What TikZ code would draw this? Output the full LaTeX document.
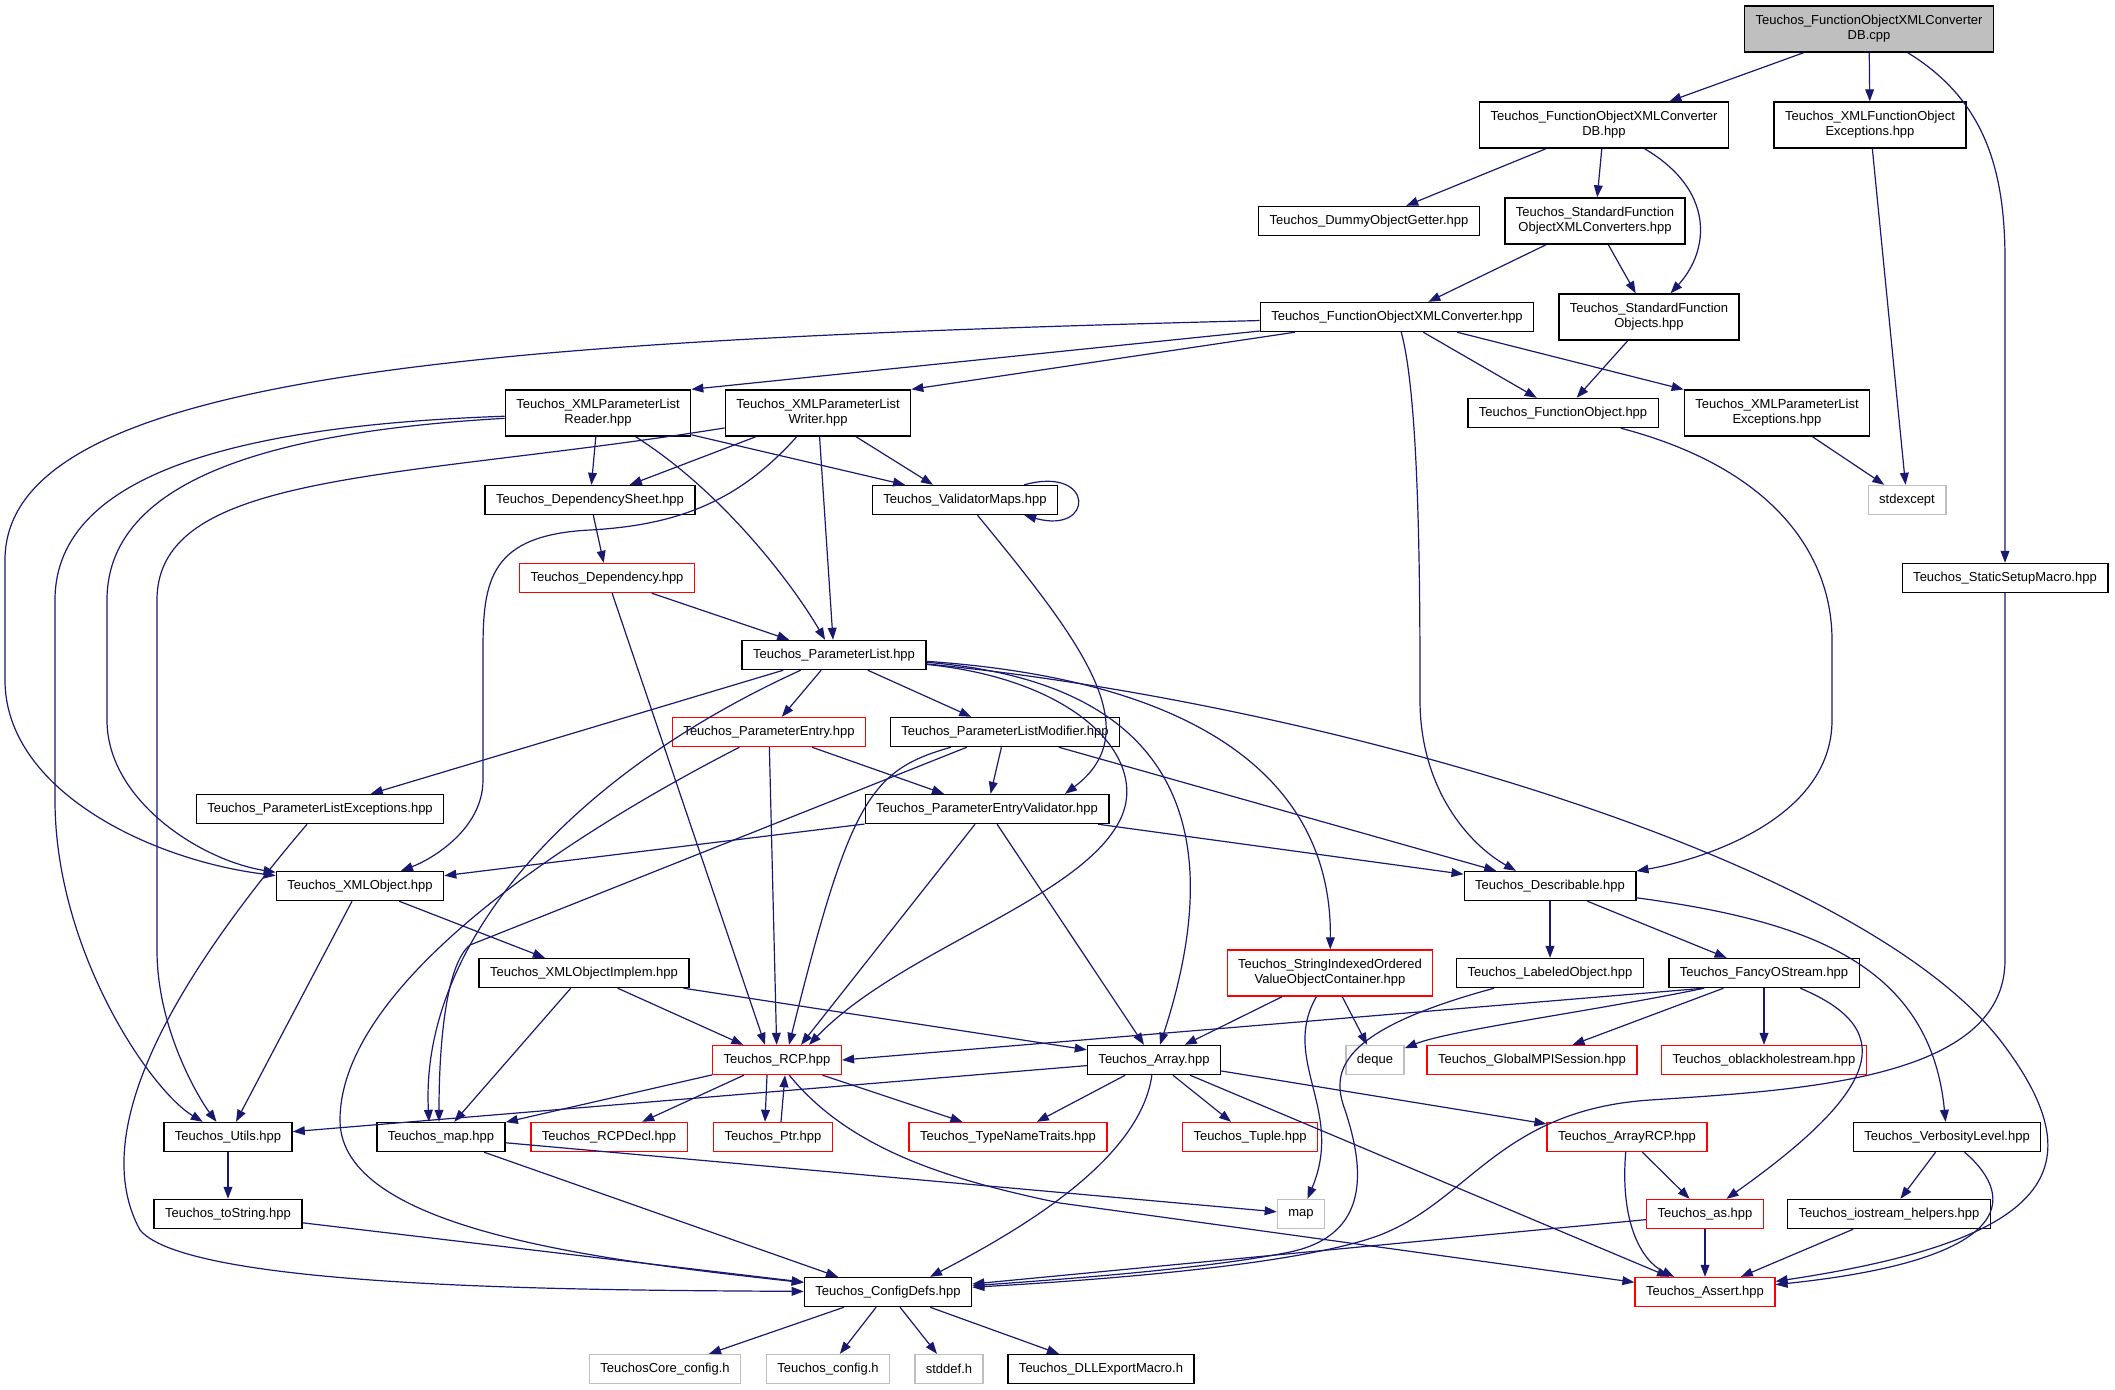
\documentclass[tikz,border=0pt]{standalone}
\usepackage{fontspec}
\setmainfont{Liberation Sans}
\usepackage{tikz}
\usetikzlibrary{arrows.meta}
\definecolor{edgeblue}{HTML}{191970}
\definecolor{extgray}{HTML}{BFBFBF}

\begin{document}
\begin{tikzpicture}[x=0.5pt,y=0.5pt,yscale=-1,xscale=1,
  box/.style={draw=black,line width=0.7pt,fill=white,inner xsep=5.5pt,inner ysep=0pt,minimum height=14.5pt,align=center,font=\fontsize{6.5pt}{7.5pt}\selectfont},
  tall/.style={minimum height=23pt},
  redbox/.style={box,draw=red},
  extbox/.style={box,draw=extgray},
  mainbox/.style={box,fill=extgray},
  incl/.style={draw=edgeblue,line width=0.6pt,-{Triangle[length=6pt,width=4.4pt]}}]
\useasboundingbox (0,0) rectangle (2115,1389);

% Nodes: top part
\node[mainbox,tall] (cpp) at (1869,29) {Teuchos\_FunctionObjectXMLConverter\\DB.cpp};
\node[box,tall] (dbhpp) at (1604,125) {Teuchos\_FunctionObjectXMLConverter\\DB.hpp};
\node[box,tall] (xfoexc) at (1870,125) {Teuchos\_XMLFunctionObject\\Exceptions.hpp};
\node[box] (dummy) at (1369,221) {Teuchos\_DummyObjectGetter.hpp};
\node[box,tall] (sfoxc) at (1595,221) {Teuchos\_StandardFunction\\ObjectXMLConverters.hpp};
\node[box] (foxc) at (1397,317) {Teuchos\_FunctionObjectXMLConverter.hpp};
\node[box,tall] (sfo) at (1649,317) {Teuchos\_StandardFunction\\Objects.hpp};
\node[box] (fo) at (1563,413) {Teuchos\_FunctionObject.hpp};
\node[box,tall] (xplexc) at (1777,413) {Teuchos\_XMLParameterList\\Exceptions.hpp};
\node[extbox] (stdexcept) at (1907,500) {stdexcept};
\node[box] (ssm) at (2005,578) {Teuchos\_StaticSetupMacro.hpp};
\node[box,tall] (xplr) at (598,413) {Teuchos\_XMLParameterList\\Reader.hpp};
\node[box,tall] (xplw) at (818,413) {Teuchos\_XMLParameterList\\Writer.hpp};
\node[box] (depsheet) at (590,500) {Teuchos\_DependencySheet.hpp};
\node[box] (valmaps) at (965,500) {Teuchos\_ValidatorMaps.hpp};
\node[redbox] (dep) at (607,578) {Teuchos\_Dependency.hpp};
\node[box] (pl) at (834,655) {Teuchos\_ParameterList.hpp};

% Nodes: middle part
\node[redbox] (pe) at (769,732) {Teuchos\_ParameterEntry.hpp};
\node[box] (plm) at (1005,732) {Teuchos\_ParameterListModifier.hpp};
\node[box] (plexc) at (320,809) {Teuchos\_ParameterListExceptions.hpp};
\node[box] (pev) at (987,809) {Teuchos\_ParameterEntryValidator.hpp};
\node[box] (xmlobj) at (360,886) {Teuchos\_XMLObject.hpp};
\node[box] (describable) at (1550,886) {Teuchos\_Describable.hpp};
\node[box] (xmlimpl) at (584,973) {Teuchos\_XMLObjectImplem.hpp};
\node[redbox,tall] (sio) at (1330,973) {Teuchos\_StringIndexedOrdered\\ValueObjectContainer.hpp};
\node[box] (labeled) at (1550,973) {Teuchos\_LabeledObject.hpp};
\node[box] (fancy) at (1764,973) {Teuchos\_FancyOStream.hpp};
\node[redbox] (rcp) at (777,1060) {Teuchos\_RCP.hpp};
\node[box] (array) at (1154,1060) {Teuchos\_Array.hpp};
\node[extbox] (deque) at (1375,1060) {deque};
\node[redbox] (gmpi) at (1532,1060) {Teuchos\_GlobalMPISession.hpp};
\node[redbox] (obh) at (1764,1060) {Teuchos\_oblackholestream.hpp};

% Nodes: bottom part
\node[box] (utils) at (228,1137) {Teuchos\_Utils.hpp};
\node[box] (maphpp) at (441,1137) {Teuchos\_map.hpp};
\node[redbox] (rcpdecl) at (609,1137) {Teuchos\_RCPDecl.hpp};
\node[redbox] (ptr) at (773,1137) {Teuchos\_Ptr.hpp};
\node[redbox] (tnt) at (1008,1137) {Teuchos\_TypeNameTraits.hpp};
\node[redbox] (tuple) at (1250,1137) {Teuchos\_Tuple.hpp};
\node[redbox] (arcp) at (1627,1137) {Teuchos\_ArrayRCP.hpp};
\node[box] (verb) at (1947,1137) {Teuchos\_VerbosityLevel.hpp};
\node[box] (tostring) at (228,1214) {Teuchos\_toString.hpp};
\node[extbox] (map) at (1301,1214) {map};
\node[redbox] (as) at (1705,1214) {Teuchos\_as.hpp};
\node[box] (ioh) at (1889,1214) {Teuchos\_iostream\_helpers.hpp};
\node[box] (configdefs) at (888,1292) {Teuchos\_ConfigDefs.hpp};
\node[redbox] (assert) at (1705,1292) {Teuchos\_Assert.hpp};
\node[extbox] (coreconfig) at (665,1369) {TeuchosCore\_config.h};
\node[extbox] (config) at (828,1369) {Teuchos\_config.h};
\node[extbox] (stddef) at (949,1369) {stddef.h};
\node[box] (dll) at (1101,1369) {Teuchos\_DLLExportMacro.h};

% Edges: converter DB
\draw[incl] (cpp) -- (dbhpp);
\draw[incl] (cpp) -- (xfoexc);
\draw[incl] (cpp) .. controls (1985,100) and (2005,170) .. (2005,260) -- (ssm);
\draw[incl] (dbhpp) -- (dummy);
\draw[incl] (dbhpp) -- (sfoxc);
\draw[incl] (dbhpp) .. controls (1715,190) and (1710,250) .. (sfo);
\draw[incl] (xfoexc) -- (stdexcept);
\draw[incl] (sfoxc) -- (foxc);
\draw[incl] (sfoxc) -- (sfo);
\draw[incl] (sfo) -- (fo);
\draw[incl] (xplexc) -- (stdexcept);

% Edges: function object converter
\draw[incl] (foxc) .. controls (500,340) and (5,370) .. (5,560) -- (5,680) .. controls (5,790) and (150,860) .. (xmlobj);
\draw[incl] (foxc) -- (xplr.north east);
\draw[incl] (foxc) -- (xplw.north east);
\draw[incl] (foxc) -- (fo);
\draw[incl] (foxc) -- (xplexc);
\draw[incl] (foxc) .. controls (1420,400) and (1420,600) .. (1420,700) .. controls (1420,790) and (1470,845) .. ([xshift=-17pt]describable.north);
\draw[incl] (fo) .. controls (1780,470) and (1832,560) .. (1832,640) -- (1832,720) .. controls (1832,820) and (1700,860) .. (describable);
\draw[incl] (ssm) -- (2005,960) .. controls (2005,1080) and (1800,1090) .. (1650,1100) .. controls (1500,1110) and (1470,1200) .. (1380,1235) .. controls (1300,1265) and (1100,1280) .. (configdefs);

% Edges: reader and writer
\draw[incl] (xplr) .. controls (250,425) and (55,470) .. (55,600) -- (55,800) .. controls (55,950) and (150,1090) .. (utils);
\draw[incl] (xplr) .. controls (300,430) and (107,470) .. (107,600) -- (107,720) .. controls (107,800) and (200,860) .. (xmlobj);
\draw[incl] (xplr) -- (depsheet);
\draw[incl] (xplr) .. controls (720,490) and (790,580) .. (pl);
\draw[incl] (xplr) -- ([xshift=-30pt]valmaps.north);
\draw[incl] (xplw) .. controls (400,480) and (157,470) .. (157,600) -- (157,950) .. controls (157,1030) and (200,1100) .. (utils);
\draw[incl] (xplw) .. controls (740,500) and (680,525) .. (590,530) .. controls (490,535) and (483,580) .. (483,650) -- (483,780) .. controls (483,830) and (430,860) .. (xmlobj);
\draw[incl] (xplw) -- (depsheet);
\draw[incl] (xplw) -- ([xshift=-16pt]valmaps.north);
\draw[incl] (xplw) -- (pl);
\draw[incl] (depsheet) -- (dep);
\draw[incl] ([xshift=-17pt]valmaps.north east) .. controls (1095,465) and (1095,535) .. ([xshift=-17pt]valmaps.south east);
\draw[incl] (valmaps) .. controls (1080,640) and (1150,730) .. ([xshift=39pt]pev.north);
\draw[incl] (dep) -- (pl);
\draw[incl] (dep) -- ([xshift=-6pt]rcp.north);

% Edges: parameter list
\draw[incl] (pl) -- (plexc);
\draw[incl] (pl) -- (pe);
\draw[incl] (pl) -- (plm);
\draw[incl] (pl) .. controls (560,780) and (420,950) .. ([xshift=-6pt]maphpp.north);
\draw[incl] (pl) .. controls (1080,680) and (1150,760) .. (1120,820) .. controls (1080,900) and (900,950) .. ([xshift=16pt]rcp.north);
\draw[incl] (pl) .. controls (1150,680) and (1240,800) .. ([xshift=3pt]array.north);
\draw[incl] (pl) .. controls (1200,680) and (1332,780) .. (sio);
\draw[incl] (pl) .. controls (1300,700) and (1850,850) .. (2000,1040) .. controls (2100,1170) and (2050,1240) .. (assert);
\draw[incl] (pe) -- (pev);
\draw[incl] (pe) -- (rcp);
\draw[incl] (pe) .. controls (520,860) and (340,1000) .. (340,1120) .. controls (340,1230) and (600,1260) .. (configdefs);
\draw[incl] (plm) -- (pev);
\draw[incl] (plm) -- (describable);
\draw[incl] (plm) .. controls (870,770) and (850,800) .. ([xshift=6pt]rcp.north);
\draw[incl] (plm) -- (470,945) .. controls (445,965) and (439,1050) .. ([xshift=-1pt]maphpp.north);
\draw[incl] (pev) -- (xmlobj);
\draw[incl] (pev) -- (describable);
\draw[incl] (pev) -- ([xshift=12pt]rcp.north);
\draw[incl] (pev) -- ([xshift=-5pt]array.north);
\draw[incl] (plexc) .. controls (200,950) and (80,1120) .. (140,1230) .. controls (190,1290) and (600,1290) .. (configdefs);

% Edges: xml object
\draw[incl] (xmlobj) -- (xmlimpl);
\draw[incl] (xmlobj) -- (utils);
\draw[incl] (xmlimpl) -- (rcp);
\draw[incl] (xmlimpl) -- (maphpp);
\draw[incl] (xmlimpl) -- (array);

% Edges: describable and streams
\draw[incl] (describable) -- (labeled);
\draw[incl] (describable) -- (fancy);
\draw[incl] (describable) .. controls (1800,920) and (1930,960) .. (verb);
\draw[incl] (labeled) .. controls (1340,1030) and (1330,1070) .. (1345,1110) .. controls (1365,1170) and (1370,1235) .. (1290,1252) .. controls (1200,1270) and (1050,1280) .. (configdefs);
\draw[incl] (sio) -- (array);
\draw[incl] (sio) -- (deque);
\draw[incl] (sio) .. controls (1280,1060) and (1345,1110) .. (map);
\draw[incl] ([xshift=-30pt]fancy.south) -- (rcp.east);
\draw[incl] ([xshift=-30pt]fancy.south) .. controls (1600,1010) and (1450,1030) .. (deque);
\draw[incl] (fancy) -- (gmpi);
\draw[incl] (fancy) -- (obh);
\draw[incl] (fancy) .. controls (1900,1030) and (1880,1090) .. (as);

% Edges: RCP and Array
\draw[incl] (rcp) -- (maphpp);
\draw[incl] (rcp) -- (rcpdecl);
\draw[incl] ([xshift=-5pt]rcp.south) -- ([xshift=-4pt]ptr.north);
\draw[incl] ([xshift=4pt]ptr.north) -- ([xshift=4pt]rcp.south);
\draw[incl] (rcp) -- (tnt);
\draw[incl] (rcp) .. controls (850,1150) and (950,1180) .. (1060,1203) -- (assert);
\draw[incl] (array) -- (utils);
\draw[incl] (array) -- (tnt);
\draw[incl] (array) -- (tuple);
\draw[incl] (array) -- (arcp);
\draw[incl] (array) -- (assert);
\draw[incl] (array) .. controls (1140,1160) and (1020,1230) .. ([xshift=21pt]configdefs.north);
\draw[incl] (arcp) -- (as);
\draw[incl] (arcp) .. controls (1620,1220) and (1640,1260) .. (assert);
\draw[incl] (as) -- (assert);
\draw[incl] (as) -- (configdefs);
\draw[incl] (verb) -- (ioh);
\draw[incl] (verb) .. controls (2020,1200) and (2010,1260) .. (assert);
\draw[incl] (ioh) -- (assert);

% Edges: utils, map, config
\draw[incl] (utils) -- (tostring);
\draw[incl] (tostring) -- (configdefs);
\draw[incl] (maphpp) -- ([xshift=-25pt]configdefs.north);
\draw[incl] (maphpp) -- (map);
\draw[incl] (configdefs) -- (coreconfig);
\draw[incl] (configdefs) -- (config);
\draw[incl] (configdefs) -- (stddef);
\draw[incl] (configdefs) -- (dll);

\end{tikzpicture}
\end{document}
